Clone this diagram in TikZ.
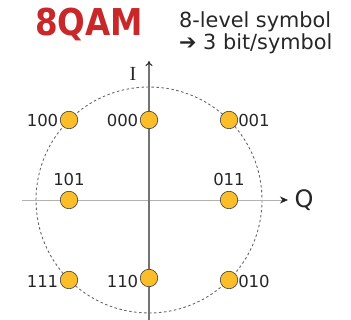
\documentclass[tikz,border=0pt]{standalone}
\usepackage{fontspec}
\setmainfont{DejaVu Sans}
\newfontfamily\serifI{Liberation Serif}
\usetikzlibrary{arrows.meta}
\definecolor{dotfill}{HTML}{FBBD2A}
\definecolor{qamred}{HTML}{C8282A}
\tikzset{
  qdot/.style={circle,fill=dotfill,draw=black!75,line width=0.6pt,minimum size=17.5pt,inner sep=0pt},
  lbl/.style={font=\fontsize{16.5}{18}\selectfont,text=black!85,inner sep=0pt},
  txt/.style={font=\fontsize{20.8}{22}\selectfont,text=black!85,inner sep=0pt,anchor=base west},
}
\begin{document}
\begin{tikzpicture}[x=1pt,y=-1pt]
\useasboundingbox (0,0) rectangle (351,320);
\coordinate (c) at (149,200);
% dashed circle
\draw[black!60,line width=0.9pt,dash pattern=on 2.5pt off 2.5pt] (c) circle[radius=113];
% axes
\coordinate (qs) at (22,200);
\coordinate (qe) at (288,200);
\coordinate (is) at (149,320);
\coordinate (ie) at (149,61);
\draw[black!30,line width=0.8pt,-{Stealth[length=8pt,width=7pt,inset=2.5pt,black!85]}] (qs) -- (qe);
\draw[black!55,line width=1.5pt,-{To[length=5pt,width=7pt,black!85,line width=1pt]}] (is) -- (ie);
% dots
\node[qdot] (d100) at (69,120) {};
\node[qdot] (d000) at (149,120) {};
\node[qdot] (d001) at (229,120) {};
\node[qdot] (d101) at (69,200) {};
\node[qdot] (d011) at (229,200) {};
\node[qdot] (d111) at (69,280) {};
\node[qdot] (d110) at (149,278) {};
\node[qdot] (d010) at (229,280) {};
% labels
\node[lbl,anchor=east] (l100) at ([xshift=-1.5pt]d100.west) {100};
\node[lbl,anchor=east] (l000) at ([xshift=-1.5pt]d000.west) {000};
\node[lbl,anchor=west] (l001) at ([xshift=0pt]d001.east) {001};
\node[lbl,anchor=south] (l101) at ([yshift=5.5pt]d101.north) {101};
\node[lbl,anchor=south] (l011) at ([yshift=5.5pt]d011.north) {011};
\node[lbl,anchor=east] (l111) at ([xshift=-1.5pt,yshift=-1pt]d111.west) {111};
\node[lbl,anchor=east] (l110) at ([xshift=-1.5pt,yshift=-3pt]d110.west) {110};
\node[lbl,anchor=west] (l010) at ([xshift=0pt,yshift=-1pt]d010.east) {010};
% axis labels
\node[inner sep=0pt,font=\serifI\fontsize{20}{22}\selectfont,text=black!85] (I) at (133,74) {I};
\node[inner sep=0pt,font=\fontsize{24}{26}\selectfont,text=black!85] (Q) at (304,200) {Q};
% title
\node[inner sep=0pt,text=qamred,font=\bfseries\fontsize{37}{40}\selectfont,xscale=0.88] (title) at (89,24) {8QAM};
\node[txt] (t1) at (179,28) {8-level symbol};
\node[txt] (t2) at (179,50) {{\bfseries ➔} 3 bit/symbol};
\end{tikzpicture}
\end{document}
